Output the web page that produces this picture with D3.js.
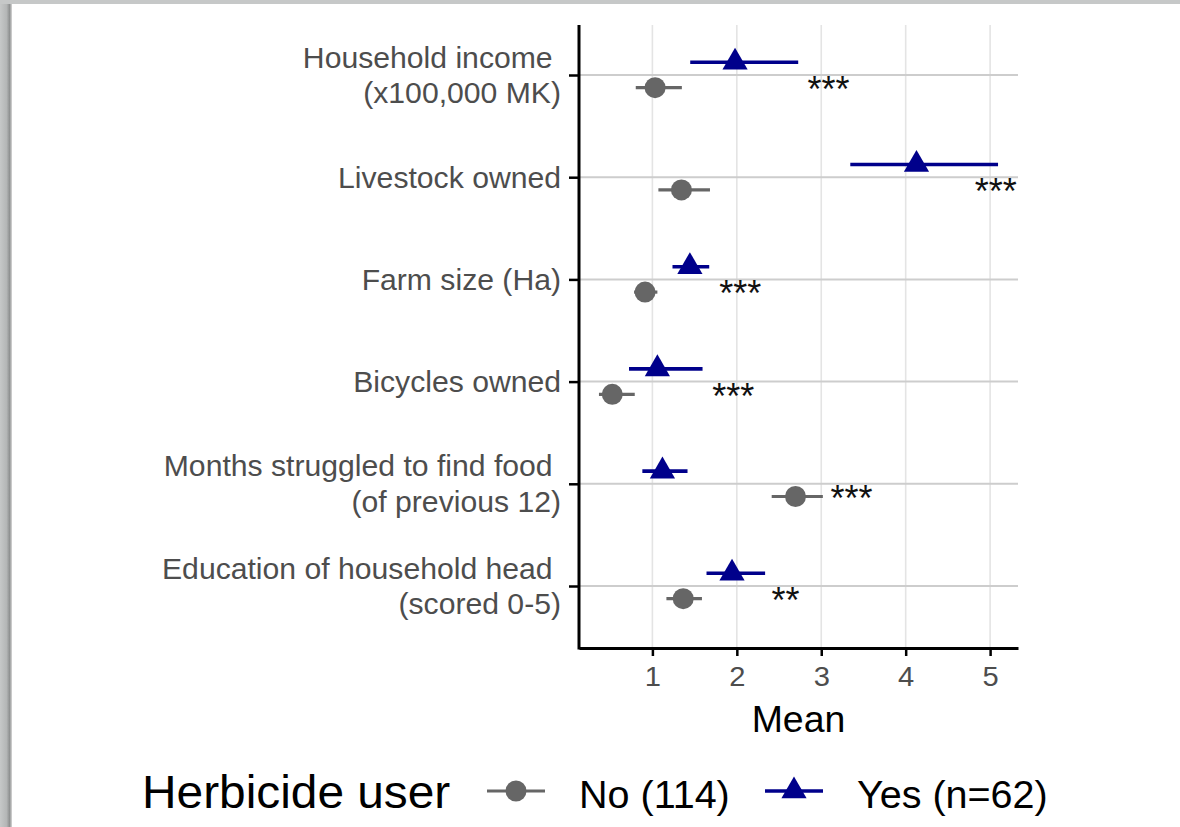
<!DOCTYPE html>
<html><head><meta charset="utf-8">
<script src="https://cdn.jsdelivr.net/npm/d3@7"></script>
<style>
body{margin:0;background:#fff;}
svg{display:block;}
text{font-family:"Liberation Sans",Arial,Helvetica,sans-serif;white-space:pre;}
</style>
</head><body>
<svg id="c" width="1180" height="827"></svg>
<script>
// ---- data ----
const categories = [
  "Household income \n(x100,000 MK)",
  "Livestock owned",
  "Farm size (Ha)",
  "Bicycles owned",
  "Months struggled to find food \n(of previous 12)",
  "Education of household head \n(scored 0-5)"
];
const yesMean = [1.979, 4.128, 1.444, 1.059, 1.119, 1.943];
const yesLow  = [1.448, 3.344, 1.238, 0.723, 0.881, 1.641];
const yesHigh = [2.727, 5.094, 1.673, 1.594, 1.416, 2.335];
const noMean  = [1.032, 1.344, 0.913, 0.525, 2.695, 1.365];
const noLow   = [0.803, 1.071, 0.783, 0.367, 2.413, 1.166];
const noHigh  = [1.349, 1.682, 1.059, 0.791, 3.019, 1.587];
const sigLabels = ["***", "***", "***", "***", "***", "**"];
const sigX      = [2.849, 4.829, 1.804, 1.721, 3.122, 2.422];
const xTicks = [1, 2, 3, 4, 5];
const seriesNames = ["No (114)", "Yes (n=62)"];
const legendTitle = "Herbicide user";
const xTitle = "Mean";

// ---- layout ----
const W = 1180, H = 827;
const P = {left: 579, right: 1018, top: 25, bottom: 648};
const dodge = 12.7;
const colNo = "#666666", colYes = "#00008b";
const SX = 1.04; // horizontal text stretch seen in the reference

const svg = d3.select("#c");

// page frame (scanned look)
const defs = svg.append("defs");
const g1 = defs.append("linearGradient").attr("id","sh").attr("x1","0").attr("x2","1");
g1.append("stop").attr("offset","0").attr("stop-color","#c6c8c8");
g1.append("stop").attr("offset","0.55").attr("stop-color","#b4b6b6");
g1.append("stop").attr("offset","0.8").attr("stop-color","#8e9090");
g1.append("stop").attr("offset","1").attr("stop-color","#d8d8d8");
svg.append("rect").attr("width",W).attr("height",H).attr("fill","#c6c8c8");
svg.append("rect").attr("x",0).attr("y",4).attr("width",12).attr("height",H).attr("fill","url(#sh)");
svg.append("rect").attr("x",12).attr("y",4).attr("width",W-12).attr("height",H-4).attr("fill","#ffffff");

// helper: text placed at (tx,ty) stretched horizontally
function stext(tx, ty, str, size, fill, anchor) {
  return svg.append("text")
    .attr("transform", `translate(${tx},${ty}) scale(${SX},1)`)
    .attr("x", 0).attr("y", 0)
    .attr("text-anchor", anchor || "start")
    .attr("font-size", size).attr("fill", fill).text(str);
}

// scales
const lo = d3.min([...yesLow, ...noLow]), hi = d3.max([...yesHigh, ...noHigh]);
const pad = (hi - lo) * 0.05;
const x = d3.scaleLinear().domain([lo - pad, hi + pad]).range([P.left, P.right]);
const y = d3.scalePoint().domain(categories).range([75, 586]);

// grid
svg.append("g").selectAll("line").data(xTicks).join("line")
  .attr("x1", d => x(d)).attr("x2", d => x(d))
  .attr("y1", P.top).attr("y2", P.bottom)
  .attr("stroke", "#e4e4e4").attr("stroke-width", 1.6);
svg.append("g").selectAll("line").data(categories).join("line")
  .attr("x1", P.left).attr("x2", P.right)
  .attr("y1", d => y(d)).attr("y2", d => y(d))
  .attr("stroke", "#cdcdcd").attr("stroke-width", 2);

// x axis
const xa = svg.append("g").attr("transform", `translate(0,${P.bottom})`)
  .call(d3.axisBottom(x).tickValues(xTicks).tickFormat(d3.format("d")).tickSize(8).tickSizeOuter(0).tickPadding(10));
xa.select(".domain").attr("stroke", "#000").attr("stroke-width", 3);
xa.selectAll(".tick line").attr("stroke", "#000").attr("stroke-width", 2.5);
xa.selectAll(".tick text").attr("font-size", 28).attr("fill", "#4d4d4d")
  .attr("font-family", '"Liberation Sans",Arial,sans-serif')
  .attr("transform", `scale(${SX},1)`);

// y axis
const ya = svg.append("g").attr("transform", `translate(${P.left},0)`)
  .call(d3.axisLeft(y).tickSize(10).tickSizeOuter(0).tickFormat(""));
ya.select(".domain").remove();
ya.selectAll(".tick line").attr("stroke", "#000").attr("stroke-width", 2.5);
svg.append("line").attr("x1", P.left).attr("x2", P.left)
  .attr("y1", P.top).attr("y2", P.bottom + 1.5)
  .attr("stroke", "#000").attr("stroke-width", 3);

// y labels (multi-line)
const lh = 35.5, fsY = 29;
categories.forEach(c => {
  const lines = c.split("\n");
  const t = svg.append("text").attr("text-anchor", "end")
    .attr("transform", `translate(561,0) scale(${SX},1)`)
    .attr("font-size", fsY).attr("fill", "#4d4d4d");
  const y0 = y(c) + 10.4 - (lines.length - 1) * lh / 2;
  lines.forEach((l, i) => {
    t.append("tspan").attr("x", 0).attr("y", y0 + i * lh).text(l);
  });
});

// series
const rows = categories.map((c, i) => ({c, i}));
// No (gray)
svg.append("g").selectAll("line").data(rows).join("line")
  .attr("x1", d => x(noLow[d.i])).attr("x2", d => x(noHigh[d.i]))
  .attr("y1", d => y(d.c) + dodge).attr("y2", d => y(d.c) + dodge)
  .attr("stroke", colNo).attr("stroke-width", 3.2);
svg.append("g").selectAll("circle").data(rows).join("circle")
  .attr("cx", d => x(noMean[d.i])).attr("cy", d => y(d.c) + dodge)
  .attr("r", 10.5).attr("fill", colNo);
// Yes (navy)
svg.append("g").selectAll("line").data(rows).join("line")
  .attr("x1", d => x(yesLow[d.i])).attr("x2", d => x(yesHigh[d.i]))
  .attr("y1", d => y(d.c) - dodge).attr("y2", d => y(d.c) - dodge)
  .attr("stroke", colYes).attr("stroke-width", 3.6);
const tri = d3.symbol(d3.symbolTriangle, 275);
svg.append("g").selectAll("path").data(rows).join("path")
  .attr("d", tri)
  .attr("transform", d => `translate(${x(yesMean[d.i])},${y(d.c) - dodge})`)
  .attr("fill", colYes);

// significance stars
svg.append("g").selectAll("text").data(rows).join("text")
  .attr("x", d => x(sigX[d.i]) - 1).attr("y", d => y(d.c) + 27)
  .attr("font-size", 36).attr("fill", "#111")
  .text(d => sigLabels[d.i]);

// x title
stext((P.left + P.right) / 2, 731.5, xTitle, 36, "#000", "middle");

// legend
const ly = 791;
stext(142, 808, legendTitle, 46, "#000");
// key No
svg.append("line").attr("x1", 487).attr("x2", 545).attr("y1", ly).attr("y2", ly)
  .attr("stroke", colNo).attr("stroke-width", 3.2);
svg.append("circle").attr("cx", 516).attr("cy", ly).attr("r", 10.5).attr("fill", colNo);
stext(579, 808, seriesNames[0], 38, "#000");
// key Yes
svg.append("line").attr("x1", 765).attr("x2", 823).attr("y1", ly).attr("y2", ly)
  .attr("stroke", colYes).attr("stroke-width", 3.6);
svg.append("path").attr("d", tri).attr("transform", `translate(794,${ly})`).attr("fill", colYes);
stext(857, 808, seriesNames[1], 38, "#000");
</script>
</body></html>
